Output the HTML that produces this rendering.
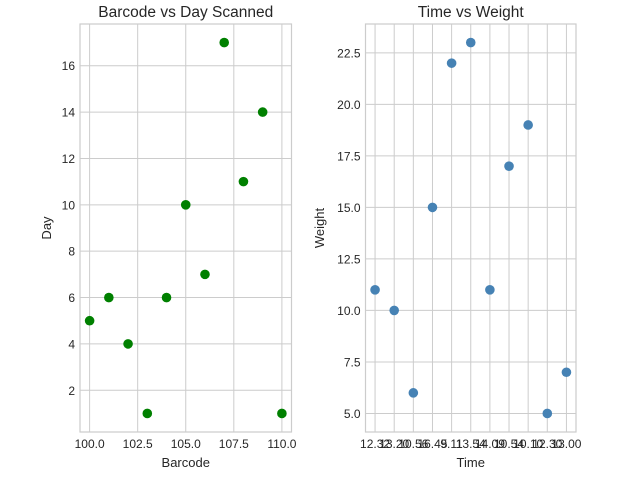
<!DOCTYPE html>
<html><head><meta charset="utf-8"><style>
html,body{margin:0;padding:0;background:#fff;}
svg{display:block;font-family:"Liberation Sans",sans-serif;}
</style></head><body>
<svg id="c" width="640" height="480" xmlns="http://www.w3.org/2000/svg"></svg>
<script>
const barcodes=[100,101,102,103,104,105,106,107,108,109,110];
const days=[5,6,4,1,6,10,7,17,11,14,1];
const leftXTicks=[100,102.5,105,107.5,110];
const leftXTickLabels=["100.0","102.5","105.0","107.5","110.0"];
const leftYTicks=[2,4,6,8,10,12,14,16];
const times=["12.32","13.20","10.56","16.45","9.11","13.54","14.09","10.54","10.10","12.30","13.00"];
const weights=[11,10,6,15,22,23,11,17,19,5,7];
const rightYTicks=[5,7.5,10,12.5,15,17.5,20,22.5];
const rightYTickLabels=["5.0","7.5","10.0","12.5","15.0","17.5","20.0","22.5"];

const svg=document.getElementById('c');
const NS='http://www.w3.org/2000/svg';
function mk(tag,attrs,parent){const e=document.createElementNS(NS,tag);for(const k in attrs)e.setAttribute(k,attrs[k]);(parent||svg).appendChild(e);return e;}
function lin(d0,d1,r0,r1){return v=>r0+(v-d0)/(d1-d0)*(r1-r0);}

function panel(o){
  const g=mk('g',{});
  
  
  const x=lin(o.xd[0],o.xd[1],o.L,o.R), y=lin(o.yd[0],o.yd[1],o.B,o.T);
  o.xt.forEach((t,i)=>{
    const gl=mk('line',{x1:x(t),x2:x(t),y1:o.T,y2:o.B,stroke:'#cccccc','stroke-width':1},g);
    
    
    const tl=mk('text',{x:x(t),y:o.B+16,'text-anchor':'middle','font-size':12,fill:'#262626'},g);
    tl.textContent=o.xl[i];
    
    
  });
  o.yt.forEach((t,i)=>{
    const gl=mk('line',{x1:o.L,x2:o.R,y1:y(t),y2:y(t),stroke:'#cccccc','stroke-width':1},g);
    
    
    const tl=mk('text',{x:o.L-5,y:y(t)+4.5,'text-anchor':'end','font-size':12,fill:'#262626'},g);
    tl.textContent=o.yl[i];
    
    
  });
  const fr=mk('rect',{x:o.L,y:o.T,width:o.R-o.L,height:o.B-o.T,fill:'none',stroke:'#cccccc','stroke-width':1.2},g);
  
  
  o.xs.forEach((xv,i)=>{
    const p=mk('circle',{cx:x(xv),cy:y(o.ys[i]),r:4.8,fill:o.color},g);
    
    
  });
  const ti=mk('text',{x:(o.L+o.R)/2,y:17,'text-anchor':'middle','font-size':15.5,fill:'#262626'},g);
  ti.textContent=o.title;
  
  
  const xa=mk('text',{x:(o.L+o.R)/2,y:467,'text-anchor':'middle','font-size':13,fill:'#262626'},g);
  xa.textContent=o.xlab;
  
  
  const cy=(o.T+o.B)/2;
  const ya=mk('text',{x:o.yx,y:cy,'text-anchor':'middle','font-size':13,fill:'#262626',transform:`rotate(-90 ${o.yx} ${cy})`},g);
  ya.textContent=o.ylab;
  
  
}
panel({name:'barcode-day-panel',L:80,R:291.5,T:24,B:432,xd:[99.5,110.5],yd:[0.2,17.8],
  xt:leftXTicks,xl:leftXTickLabels,yt:leftYTicks,yl:leftYTicks.map(String),
  xs:barcodes,ys:days,color:'#008000',title:'Barcode vs Day Scanned',xlab:'Barcode',ylab:'Day',yx:51});
const idx=times.map((_,i)=>i);
panel({name:'time-weight-panel',L:365.5,R:576,T:24,B:432,xd:[-0.5,10.5],yd:[4.1,23.9],
  xt:idx,xl:times,yt:rightYTicks,yl:rightYTickLabels,
  xs:idx,ys:weights,color:'#4682b4',title:'Time vs Weight',xlab:'Time',ylab:'Weight',yx:324});
</script>
</body></html>
